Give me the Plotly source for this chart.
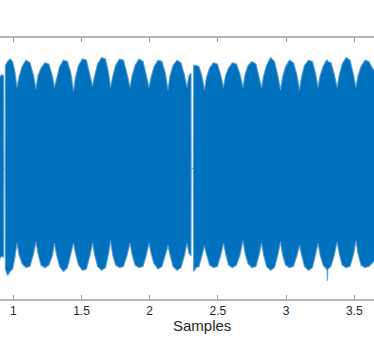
import plotly.graph_objects as go

# sample index (x 1e5) and min / max envelope of the waveform
samples = [
    0.900, 0.915, 0.929, 0.930, 0.941,
    0.942, 0.958, 0.976, 0.995, 1.012,
    1.027, 1.042, 1.064, 1.093, 1.122, 1.147,
    1.166, 1.181, 1.203, 1.232, 1.261, 1.286,
    1.302, 1.317, 1.339, 1.368, 1.397, 1.422,
    1.441, 1.456, 1.478, 1.507, 1.536, 1.561,
    1.581, 1.596, 1.618, 1.647, 1.676, 1.699,
    1.713, 1.728, 1.750, 1.779, 1.808, 1.835,
    1.856, 1.871, 1.893, 1.922, 1.951, 1.976,
    1.995, 2.010, 2.032, 2.061, 2.090, 2.115,
    2.134, 2.149, 2.171, 2.200, 2.229, 2.254,
    2.273, 2.288, 2.303, 2.304, 2.320, 2.322, 2.340, 2.362, 2.382,
    2.402, 2.417, 2.439, 2.468, 2.497, 2.522,
    2.541, 2.556, 2.578, 2.607, 2.636, 2.663,
    2.684, 2.699, 2.721, 2.750, 2.779, 2.802,
    2.820, 2.835, 2.857, 2.886, 2.915, 2.940,
    2.959, 2.974, 2.996, 3.025, 3.054, 3.079,
    3.098, 3.113, 3.135, 3.164, 3.193, 3.216,
    3.234, 3.249, 3.271, 3.296, 3.301, 3.303, 3.306, 3.329, 3.354,
    3.374, 3.389, 3.411, 3.440, 3.469, 3.494,
    3.512, 3.527, 3.549, 3.578, 3.607, 3.632, 3.645,
]

upper = [
    0.70, 0.72, 0.71, 0, 0,
    0.79, 0.82, 0.84, 0.82, 0.74,
    0.62, 0.70, 0.78, 0.83, 0.81, 0.72,
    0.61, 0.71, 0.77, 0.81, 0.80, 0.71,
    0.62, 0.69, 0.78, 0.83, 0.82, 0.73,
    0.59, 0.70, 0.79, 0.84, 0.83, 0.72,
    0.63, 0.71, 0.80, 0.85, 0.84, 0.73,
    0.62, 0.70, 0.79, 0.84, 0.83, 0.72,
    0.62, 0.71, 0.79, 0.84, 0.82, 0.71,
    0.62, 0.70, 0.78, 0.83, 0.82, 0.73,
    0.60, 0.71, 0.79, 0.83, 0.81, 0.72,
    0.62, 0.71, 0.73, 0, 0, 0.79, 0.79, 0.78, 0.71,
    0.60, 0.70, 0.77, 0.81, 0.80, 0.71,
    0.62, 0.71, 0.77, 0.81, 0.80, 0.72,
    0.62, 0.72, 0.79, 0.82, 0.80, 0.71,
    0.62, 0.71, 0.79, 0.85, 0.82, 0.71,
    0.60, 0.70, 0.78, 0.83, 0.81, 0.72,
    0.60, 0.70, 0.79, 0.83, 0.82, 0.73,
    0.62, 0.71, 0.78, 0.83, 0.83, 0.83, 0.82, 0.81, 0.72,
    0.62, 0.71, 0.80, 0.85, 0.83, 0.72,
    0.62, 0.71, 0.78, 0.83, 0.82, 0.77, 0.75,
]

lower = [
    -0.69, -0.67, -0.68, 0, 0,
    -0.77, -0.82, -0.79, -0.77, -0.68,
    -0.57, -0.66, -0.73, -0.76, -0.75, -0.66,
    -0.56, -0.65, -0.74, -0.76, -0.74, -0.67,
    -0.57, -0.66, -0.75, -0.79, -0.76, -0.66,
    -0.57, -0.65, -0.74, -0.78, -0.77, -0.67,
    -0.57, -0.66, -0.75, -0.78, -0.76, -0.65,
    -0.55, -0.66, -0.74, -0.76, -0.75, -0.66,
    -0.57, -0.66, -0.74, -0.76, -0.75, -0.66,
    -0.57, -0.65, -0.73, -0.77, -0.75, -0.66,
    -0.59, -0.66, -0.75, -0.78, -0.76, -0.67,
    -0.57, -0.65, -0.67, 0, 0, -0.79, -0.76, -0.75, -0.67,
    -0.59, -0.66, -0.74, -0.76, -0.75, -0.66,
    -0.57, -0.65, -0.74, -0.76, -0.74, -0.66,
    -0.55, -0.65, -0.73, -0.76, -0.75, -0.66,
    -0.57, -0.66, -0.75, -0.78, -0.76, -0.66,
    -0.56, -0.66, -0.74, -0.76, -0.75, -0.67,
    -0.59, -0.66, -0.75, -0.78, -0.76, -0.66,
    -0.57, -0.66, -0.74, -0.77, -0.78, -0.86, -0.77, -0.75, -0.66,
    -0.56, -0.65, -0.74, -0.76, -0.75, -0.66,
    -0.55, -0.65, -0.74, -0.76, -0.75, -0.72, -0.71,
]

tick_vals = [1, 1.5, 2, 2.5, 3, 3.5]
tick_text = ['1', '1.5', '2', '2.5', '3', '3.5']

blue = '#0072BD'
edge = 'rgba(80,150,210,0.8)'

fig = go.Figure()
fig.add_trace(go.Scatter(x=samples, y=upper, mode='lines',
                         line=dict(color=edge, width=1.2), hoverinfo='skip'))
fig.add_trace(go.Scatter(x=samples, y=lower, mode='lines', fill='tonexty',
                         fillcolor=blue, line=dict(color=edge, width=1.2),
                         hoverinfo='skip'))

fig.update_layout(
    width=374, height=349,
    margin=dict(l=0, r=0, t=38, b=50),
    showlegend=False,
    plot_bgcolor='white', paper_bgcolor='white',
    font=dict(family='Liberation Sans, Arial, sans-serif', color='#262626'),
)
fig.update_xaxes(
    range=[0.9025, 3.6445],
    tickvals=tick_vals, ticktext=tick_text,
    ticks='inside', ticklen=4, tickcolor='#999999', tickwidth=1,
    showline=True, linecolor='#b5b5b5', linewidth=1.5, mirror='ticks',
    showgrid=False, zeroline=False,
    tickfont=dict(size=12, color='#262626'),
)
fig.update_yaxes(
    range=[-1, 1], visible=False,
)
fig.add_annotation(text='Samples', x=2.387, xref='x', y=-0.10, yref='paper',
                   yanchor='middle', showarrow=False,
                   font=dict(size=15, color='#262626'))

# page has a default body margin, drop it so the figure sits at the corner
fig.write_html('out.html', config={'displayModeBar': False},
               post_script="document.body.style.margin='0';")
